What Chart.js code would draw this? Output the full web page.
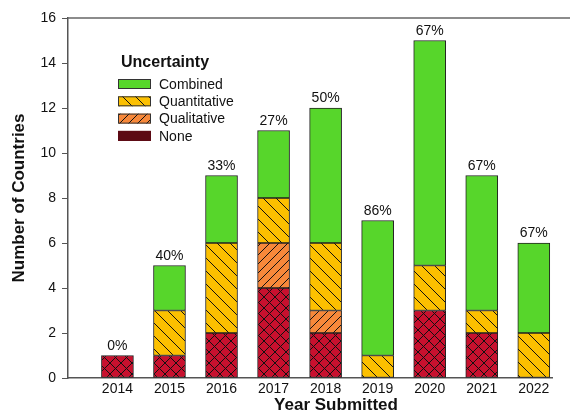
<!DOCTYPE html>
<html>
<head>
<meta charset="utf-8">
<script src="https://cdn.jsdelivr.net/npm/chart.js@4.4.1/dist/chart.umd.min.js"></script>
<style>
  html, body { margin: 0; padding: 0; background: #fff; }
  #wrap { width: 572px; height: 413px; }
</style>
</head>
<body>
<div id="wrap"><canvas id="chart"></canvas></div>
<script>
// datos
const years = [2014, 2015, 2016, 2017, 2018, 2019, 2020, 2021, 2022];
const noneVals = [1, 1, 2, 4, 2, 0, 3, 2, 0];
const qualitativeVals = [0, 0, 0, 2, 1, 0, 0, 0, 0];
const quantitativeVals = [0, 2, 4, 2, 3, 1, 2, 1, 2];
const combinedVals = [0, 2, 3, 3, 6, 6, 10, 6, 4];
const topLabels = ['0%', '40%', '33%', '27%', '50%', '86%', '67%', '67%', '67%'];
const yTicks = [0, 2, 4, 6, 8, 10, 12, 14, 16];

const FONT = "'Liberation Sans', Arial, sans-serif";

// crea un patrón de líneas diagonales sobre un color de fondo
const makePattern = (bg, size, slash, back) => {
    const c = document.createElement('canvas');
    c.width = size;
    c.height = size;
    const g = c.getContext('2d');
    g.fillStyle = bg;
    g.fillRect(0, 0, size, size);
    g.strokeStyle = '#111';
    g.lineWidth = 1;
    g.beginPath();
    if (back) {
        g.moveTo(-1, -1); g.lineTo(size + 1, size + 1);
    }
    if (slash) {
        g.moveTo(-1, size + 1); g.lineTo(size + 1, -1);
    }
    g.stroke();
    return document.getElementById('chart').getContext('2d').createPattern(c, 'repeat');
};

const pNone = makePattern('#c8102e', 11, true, true);
const pQual = makePattern('#f7883a', 9, true, false);
const pQuant = makePattern('#fcc000', 13, false, true);
const cCombined = '#57d62b';

const toXY = (vals) => vals.map((v, i) => ({ x: years[i], y: v }));

const legendItems = [
    { text: 'Combined', fill: cCombined, border: '#333' },
    { text: 'Quantitative', fill: pQuant, border: '#333' },
    { text: 'Qualitative', fill: pQual, border: '#333' },
    { text: 'None', fill: '#5c0a14', border: '#5c0a14' }
];

// leyenda, marco superior, título X y etiquetas de porcentaje
const extras = {
    id: 'extras',
    afterDraw: (chart) => {
        const ctx = chart.ctx;
        const area = chart.chartArea;
        const xs = chart.scales.x;
        const ys = chart.scales.y;
        ctx.save();

        // línea superior del marco
        ctx.strokeStyle = '#666';
        ctx.lineWidth = 1.5;
        ctx.beginPath();
        ctx.moveTo(area.left, area.top);
        ctx.lineTo(570, area.top);
        ctx.stroke();

        // porcentajes sobre cada barra
        ctx.fillStyle = '#111';
        ctx.font = '14px ' + FONT;
        ctx.textAlign = 'center';
        ctx.textBaseline = 'alphabetic';
        years.forEach((yr, i) => {
            const total = noneVals[i] + qualitativeVals[i] + quantitativeVals[i] + combinedVals[i];
            ctx.fillText(topLabels[i], xs.getPixelForValue(yr), ys.getPixelForValue(total) - 6);
        });

        // título del eje X (desplazado a la derecha como en el original)
        ctx.font = 'bold 17px ' + FONT;
        ctx.textBaseline = 'middle';
        ctx.fillText('Year Submitted', 336, 405);

        // leyenda
        ctx.textAlign = 'left';
        ctx.font = 'bold 16px ' + FONT;
        ctx.fillText('Uncertainty', 121, 63);
        ctx.font = '14px ' + FONT;
        legendItems.forEach((item, i) => {
            const y = 84 + i * 17.3;
            ctx.fillStyle = item.fill;
            ctx.fillRect(118, y - 5, 33, 10);
            ctx.strokeStyle = item.border;
            ctx.lineWidth = 1;
            ctx.strokeRect(118.5, y - 4.5, 32, 9);
            ctx.fillStyle = '#111';
            ctx.fillText(item.text, 159, y + 1);
        });
        ctx.restore();
    }
};

const barStyle = { borderColor: '#222', borderWidth: 1, barThickness: 32, borderSkipped: false };

new Chart(document.getElementById('chart'), {
    type: 'bar',
    data: {
        datasets: [
            { label: 'None', data: toXY(noneVals), backgroundColor: pNone, ...barStyle },
            { label: 'Qualitative', data: toXY(qualitativeVals), backgroundColor: pQual, ...barStyle },
            { label: 'Quantitative', data: toXY(quantitativeVals), backgroundColor: pQuant, ...barStyle },
            { label: 'Combined', data: toXY(combinedVals), backgroundColor: cCombined, ...barStyle }
        ]
    },
    options: {
        responsive: true,
        maintainAspectRatio: false,
        animation: false,
        layout: { padding: { top: 18, right: 20, left: 0, bottom: 0 } },
        plugins: {
            legend: { display: false },
            tooltip: { enabled: false }
        },
        scales: {
            x: {
                type: 'linear',
                stacked: true,
                offset: false,
                min: 2013.05,
                max: 2022.35,
                afterBuildTicks: (s) => { s.ticks = years.map(v => ({ value: v })); },
                afterFit: (s) => { s.height = 35; },
                grid: { display: false, drawTicks: false, tickLength: 0 },
                border: { display: true, color: '#555', width: 1.5 },
                ticks: {
                    color: '#111',
                    font: { family: FONT, size: 14 },
                    padding: 3,
                    maxRotation: 0,
                    callback: (v) => String(v)
                },
                title: { display: false }
            },
            y: {
                stacked: true,
                min: 0,
                max: 16,
                afterBuildTicks: (s) => { s.ticks = yTicks.map(v => ({ value: v })); },
                afterFit: (s) => { s.width = 68; },
                grid: { drawOnChartArea: false, drawTicks: true, tickLength: 6, color: '#555' },
                border: { display: true, color: '#555', width: 1.5 },
                ticks: {
                    color: '#111',
                    font: { family: FONT, size: 14 },
                    padding: 6
                },
                title: {
                    display: true,
                    text: 'Number of Countries',
                    color: '#111',
                    font: { family: FONT, size: 17, weight: 'bold' },
                    padding: { top: 9, bottom: 0 }
                }
            }
        }
    },
    plugins: [extras]
});
</script>
</body>
</html>
